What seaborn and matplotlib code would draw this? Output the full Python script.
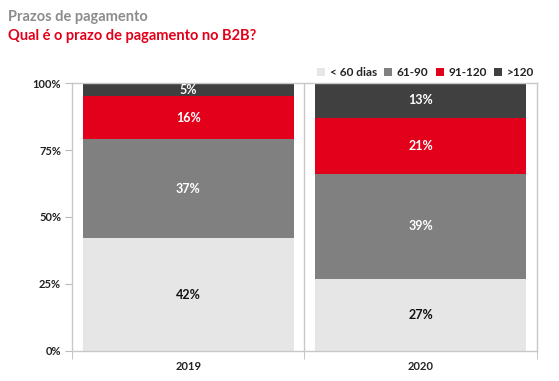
import seaborn as sns
import pandas as pd
import matplotlib.pyplot as plt
from matplotlib.patches import Patch
from matplotlib.ticker import PercentFormatter

years = ["2019", "2020"]
series = ["< 60 dias", "61-90", "91-120", ">120"]
lt60 = [42, 27]
d61_90 = [37, 39]
d91_120 = [16, 21]
gt120 = [5, 13]
colors = ["#e6e6e6", "#808080", "#e2001a", "#404040"]
text_colors = ["#111111", "white", "white", "white"]

sns.set_style("white")
plt.rcParams["font.family"] = ["Lato", "DejaVu Sans"]

data = pd.DataFrame({"ano": years, series[0]: lt60, series[1]: d61_90,
                     series[2]: d91_120, series[3]: gt120})
cum = data[series].cumsum(axis=1)

fig = plt.figure(figsize=(5.59, 3.81), dpi=100)
ax = fig.add_axes([0.129, 0.079, 0.831, 0.703])

# stacked bars: draw cumulative totals from the top down
for i in reversed(range(len(series))):
    sns.barplot(x=data["ano"], y=cum[series[i]], color=colors[i], width=0.91,
                saturation=1, ax=ax, linewidth=0)

# segment labels
for j in range(len(years)):
    base = 0
    for i, s in enumerate(series):
        v = data.loc[j, s]
        ax.text(j, base + v / 2, f"{v}%", ha="center", va="center",
                fontsize=9, fontweight="bold", color=text_colors[i])
        base += v

ax.set_xlim(-0.5, 1.5)
ax.set_ylim(0, 100)
ax.set_yticks([0, 25, 50, 75, 100])
ax.yaxis.set_major_formatter(PercentFormatter(decimals=0))
ax.set_xlabel("")
ax.set_ylabel("")
ax.tick_params(axis="y", length=5, color="#bbbbbb", labelsize=8, pad=3,
               labelcolor="#222222", left=True)
ax.tick_params(axis="x", length=0, labelsize=8, pad=7, labelcolor="#222222")
for lab in ax.get_yticklabels() + ax.get_xticklabels():
    lab.set_fontweight("bold")
ax.set_xticks([-0.5, 0.5, 1.5], minor=True)
ax.tick_params(axis="x", which="minor", length=6, color="#bbbbbb", bottom=True)
ax.axvline(0.5, color="#c8c8c8", lw=1)
for side in ["left", "right", "top", "bottom"]:
    ax.spines[side].set_visible(True)
    ax.spines[side].set_color("#c8c8c8")
    ax.spines[side].set_linewidth(1)

handles = [Patch(facecolor=c, edgecolor="none") for c in colors]
leg = ax.legend(handles, series, loc="lower right", bbox_to_anchor=(1.0, 1.01),
                ncol=4, frameon=False, handlelength=0.7, handleheight=0.7,
                handletextpad=0.4, columnspacing=0.6, borderaxespad=0,
                borderpad=0.2, fontsize=8.5)
for t in leg.get_texts():
    t.set_fontweight("bold")
    t.set_color("#222222")

fig.text(0.014, 0.955, "Prazos de pagamento", fontsize=10.5, fontweight="bold",
         color="#8c8c8c", va="center")
fig.text(0.014, 0.905, "Qual é o prazo de pagamento no B2B?", fontsize=10.5,
         fontweight="bold", color="#e2001a", va="center")

fig.savefig("out.png", dpi=100)
